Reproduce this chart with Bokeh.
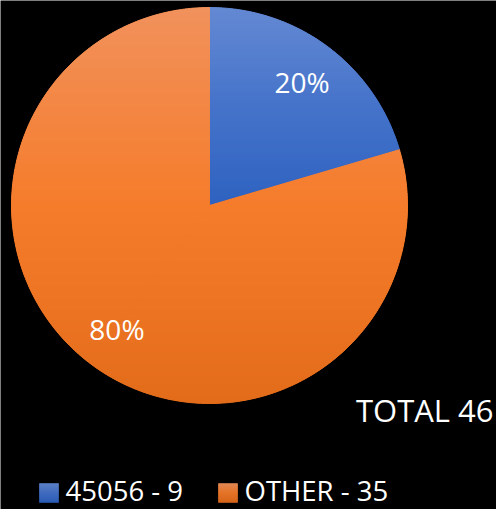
import numpy as np
from bokeh.plotting import figure
from bokeh.models import Range1d, Label
from bokeh.embed import file_html
from bokeh.resources import INLINE

# ---- data ----
categories = ["45056", "OTHER"]
counts = [9, 35]
total_count = 46

# ---- styles ----
grad_blue = ["#6489D3", "#4573CA", "#2E62C0"]
grad_orange = ["#F1915C", "#F57C2B", "#E36C1B"]
slice_grads = [grad_blue, grad_orange]
FONT = "Open Sans"

# ---- layout (pixel units, y downward) ----
W, H = 496, 509
CX, CY, R = 209.0, 205.0, 198.0

p = figure(width=W, height=H, output_backend="svg", toolbar_location=None,
           x_range=Range1d(0, W), y_range=Range1d(H, 0),
           min_border=0, background_fill_color="black", border_fill_color="black",
           outline_line_color=None)
p.axis.visible = False
p.grid.visible = False


def hex2rgb(h):
    h = h.lstrip("#")
    return np.array([int(h[i:i + 2], 16) for i in (0, 2, 4)], dtype=float)


def grad_color(stops, t):
    t = min(max(t, 0.0), 1.0)
    n = len(stops) - 1
    k = min(int(t * n), n - 1)
    f = t * n - k
    c = hex2rgb(stops[k]) * (1 - f) + hex2rgb(stops[k + 1]) * f
    return "#%02x%02x%02x" % tuple(int(round(v)) for v in c)


def clip(poly, y0, keep_ge):
    out = []
    n = len(poly)
    for i in range(n):
        a = poly[i]
        b = poly[(i + 1) % n]
        ina = a[1] >= y0 if keep_ge else a[1] <= y0
        inb = b[1] >= y0 if keep_ge else b[1] <= y0
        if ina:
            out.append(a)
        if ina != inb:
            t = (y0 - a[1]) / (b[1] - a[1])
            out.append((a[0] + t * (b[0] - a[0]), y0))
    return out


def sector_poly(a0, a1, npts=160):
    th = np.linspace(a0, a1, npts)
    pts = [(CX, CY)] + [(CX + R * np.sin(t), CY - R * np.cos(t)) for t in th]
    return pts


def gradient_fill(polys, stops, band=3.0):
    ys_all = [pt[1] for poly in polys for pt in poly]
    ytop, ybot = min(ys_all), max(ys_all)
    xs_out, ys_out, cols = [], [], []
    y = ytop
    while y < ybot:
        y2 = min(y + band, ybot)
        col = grad_color(stops, ((y + y2) / 2 - ytop) / (ybot - ytop))
        for poly in polys:
            piece = clip(clip(poly, y, True), y2, False)
            if len(piece) >= 3:
                xs_out.append([q[0] for q in piece])
                ys_out.append([q[1] for q in piece])
                cols.append(col)
        y = y2
    return xs_out, ys_out, cols


total = sum(counts)
fracs = [c / total for c in counts]
start = 0.0
for i, (cat, cnt, fr) in enumerate(zip(categories, counts, fracs)):
    a0 = start * 2 * np.pi
    a1 = (start + fr) * 2 * np.pi
    # solid base under the gradient bands (hides seams)
    base = sector_poly(a0, a1, 400)
    p.patch([q[0] for q in base], [q[1] for q in base],
            fill_color=slice_grads[i][1], line_color=None)
    nseg = int(np.ceil((a1 - a0) / (np.pi * 0.8)))
    edges = np.linspace(a0, a1, nseg + 1)
    polys = [sector_poly(edges[k], edges[k + 1]) for k in range(nseg)]
    xs, ys, cols = gradient_fill(polys, slice_grads[i])
    p.patches(xs, ys, fill_color=cols, line_color=cols, line_width=1.0)
    # percentage label
    am = (a0 + a1) / 2
    lx = CX + 0.78 * R * np.sin(am)
    ly = CY - 0.78 * R * np.cos(am)
    p.add_layout(Label(x=lx, y=ly, text=f"{round(100 * fr)}%", text_color="white",
                       text_font=FONT, text_font_size="28px",
                       text_align="center", text_baseline="middle"))
    start += fr

# total label
p.add_layout(Label(x=493, y=409, text=f"TOTAL {total_count}", text_color="white",
                   text_font=FONT, text_font_size="31px",
                   text_align="right", text_baseline="middle"))

# legend
leg_sq_x = [39, 218]
leg_txt_x = [65, 244]
SQ = 19
SQ_Y = 483
for i, (cat, cnt) in enumerate(zip(categories, counts)):
    x0 = leg_sq_x[i]
    sq = [(x0, SQ_Y), (x0 + SQ, SQ_Y), (x0 + SQ, SQ_Y + SQ), (x0, SQ_Y + SQ)]
    xs, ys, cols = gradient_fill([sq], slice_grads[i], band=1.0)
    p.patches(xs, ys, fill_color=cols, line_color=cols, line_width=0.5)
    p.add_layout(Label(x=leg_txt_x[i], y=490, text=f"{cat} - {cnt}", text_color="white",
                       text_font=FONT, text_font_size="27.5px",
                       text_align="left", text_baseline="middle"))

open("out.html", "w").write(file_html(p, INLINE))
